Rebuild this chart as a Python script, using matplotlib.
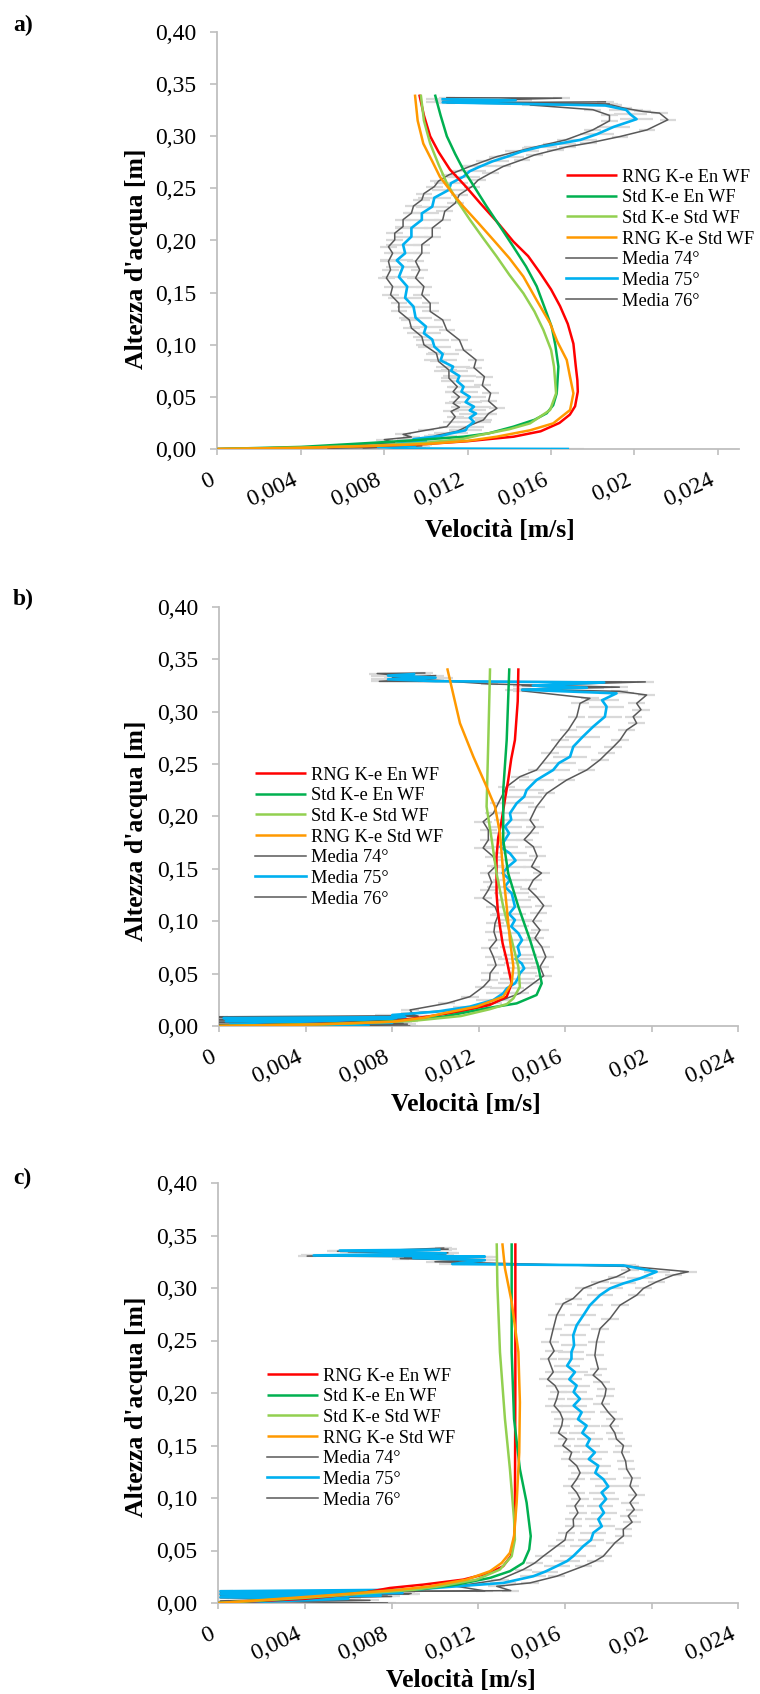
import matplotlib
matplotlib.use('Agg')
import matplotlib.pyplot as plt

plt.rcParams['font.family'] = ['Liberation Serif', 'DejaVu Serif']

# ---------------- DATA ----------------
SERIES_NAMES = ['RNG K-e En WF', 'Std K-e En WF', 'Std K-e Std WF', 'RNG K-e Std WF',
                'Media 74°', 'Media 75°', 'Media 76°']
Y_TICKS = [0.0, 0.05, 0.10, 0.15, 0.20, 0.25, 0.30, 0.35, 0.40]
Y_LABELS = ['0,00', '0,05', '0,10', '0,15', '0,20', '0,25', '0,30', '0,35', '0,40']
X_TICKS = [0.0, 0.004, 0.008, 0.012, 0.016, 0.020, 0.024]
X_LABELS = ['0', '0,004', '0,008', '0,012', '0,016', '0,02', '0,024']
X_MAX = [0.025, 0.024, 0.024]
ERR_75 = [0.0008, 0.0008, 0.0006]
ERR_SIDE = [0.0004, 0.0004, 0.0004]

# ---- panel a ----
A_RED_V = [0, 0.004, 0.0075, 0.0100, 0.0120, 0.0142, 0.0155, 0.0164, 0.0169, 0.01715, 0.01728, 0.01726, 0.01718, 0.01707, 0.0168, 0.01643, 0.0160, 0.01547, 0.0149, 0.01419, 0.0134, 0.01259, 0.0119, 0.01115, 0.0106, 0.0102, 0.0099, 0.00968]
A_RED_H = [0, 0.0012, 0.003, 0.0048, 0.0075, 0.0118, 0.017, 0.025, 0.033, 0.041, 0.055, 0.066, 0.080, 0.101, 0.120, 0.137, 0.153, 0.169, 0.185, 0.199, 0.218, 0.236, 0.252, 0.268, 0.285, 0.300, 0.320, 0.340]
A_GRN_V = [0, 0.004, 0.0075, 0.0095, 0.0118, 0.0130, 0.01419, 0.0152, 0.01579, 0.0161, 0.01627, 0.01635, 0.0162, 0.01603, 0.0157, 0.01531, 0.0148, 0.01419, 0.0136, 0.01291, 0.0123, 0.01179, 0.0114, 0.0110, 0.0107, 0.01043]
A_GRN_H = [0, 0.002, 0.006, 0.0085, 0.0118, 0.015, 0.0214, 0.028, 0.0343, 0.042, 0.0534, 0.079, 0.100, 0.117, 0.135, 0.156, 0.175, 0.194, 0.212, 0.2326, 0.252, 0.268, 0.283, 0.300, 0.320, 0.340]
A_LGR_V = [0, 0.004, 0.0075, 0.0100, 0.0118, 0.01259, 0.0140, 0.01499, 0.01595, 0.01624, 0.01614, 0.0160, 0.01563, 0.0152, 0.01467, 0.0140, 0.01339, 0.01275, 0.01211, 0.0115, 0.0110, 0.0106, 0.0102, 0.0099, 0.00975]
A_LGR_H = [0, 0.0013, 0.0032, 0.006, 0.0098, 0.0134, 0.019, 0.0246, 0.0374, 0.0534, 0.079, 0.095, 0.1142, 0.132, 0.1494, 0.167, 0.1846, 0.202, 0.2198, 0.238, 0.255, 0.273, 0.293, 0.315, 0.340]
A_ORG_V = [0, 0.004, 0.0075, 0.0100, 0.0120, 0.01339, 0.0150, 0.0161, 0.01691, 0.01707, 0.01690, 0.01675, 0.0163, 0.01595, 0.0153, 0.01467, 0.0140, 0.01323, 0.0125, 0.01179, 0.0112, 0.01067, 0.0103, 0.00987, 0.0096, 0.00947]
A_ORG_H = [0, 0.0012, 0.003, 0.0048, 0.0078, 0.0118, 0.018, 0.0246, 0.0374, 0.0534, 0.070, 0.0854, 0.103, 0.1206, 0.143, 0.1654, 0.183, 0.2006, 0.217, 0.2326, 0.247, 0.261, 0.276, 0.293, 0.315, 0.340]
A_M74_V = [0.0053, 0.0090, 0.0062, 0.0085, 0.0080, 0.0093, 0.0089, 0.0100, 0.0110, 0.0112, 0.0114, 0.0112, 0.0116, 0.0113, 0.0116, 0.0113, 0.0115, 0.0111, 0.0111, 0.0106, 0.0105, 0.0099, 0.0098, 0.0093, 0.0092, 0.0087, 0.0087, 0.0083, 0.0084, 0.0081, 0.0083, 0.0082, 0.0084, 0.0082, 0.0085, 0.0085, 0.0089, 0.0089, 0.0093, 0.0094, 0.0098, 0.0099, 0.0104, 0.0106, 0.0111, 0.0121, 0.0134, 0.0150, 0.0167, 0.0180, 0.0188, 0.0188, 0.0180, 0.0150, 0.0188, 0.0108, 0.0165, 0.0110]
A_M74_H = [0.0007, 0.002, 0.004, 0.006, 0.009, 0.0115, 0.014, 0.018, 0.0214, 0.026, 0.031, 0.036, 0.040, 0.0439, 0.050, 0.055, 0.0598, 0.068, 0.0758, 0.084, 0.0918, 0.100, 0.1078, 0.116, 0.1238, 0.132, 0.1398, 0.148, 0.1558, 0.164, 0.1718, 0.180, 0.1878, 0.194, 0.2006, 0.207, 0.2134, 0.220, 0.2262, 0.233, 0.239, 0.245, 0.2517, 0.257, 0.263, 0.271, 0.2805, 0.2886, 0.2965, 0.3061, 0.3148, 0.320, 0.3255, 0.3300, 0.3310, 0.3335, 0.3366, 0.3370]
A_M75_V = [0.0168, 0.0092, 0.0077, 0.0095, 0.0086, 0.0100, 0.0094, 0.0107, 0.0112, 0.0119, 0.0120, 0.0123, 0.0121, 0.0124, 0.0121, 0.0123, 0.0119, 0.0121, 0.0117, 0.0118, 0.0115, 0.0116, 0.0112, 0.0113, 0.0107, 0.0108, 0.0104, 0.0103, 0.0099, 0.0100, 0.0095, 0.0094, 0.0090, 0.0091, 0.0087, 0.0089, 0.0086, 0.0090, 0.0089, 0.0093, 0.0093, 0.0098, 0.0098, 0.0103, 0.0104, 0.0111, 0.0112, 0.0118, 0.0121, 0.0126, 0.0132, 0.0139, 0.0146, 0.0155, 0.0164, 0.0174, 0.0182, 0.0190, 0.0201, 0.0198, 0.0196, 0.0186, 0.0108, 0.0143, 0.0108]
A_M75_H = [0.000, 0.0005, 0.002, 0.0035, 0.005, 0.0075, 0.0095, 0.0125, 0.015, 0.018, 0.0214, 0.026, 0.030, 0.034, 0.037, 0.0406, 0.045, 0.050, 0.055, 0.0598, 0.065, 0.070, 0.075, 0.079, 0.085, 0.091, 0.0982, 0.105, 0.111, 0.1174, 0.126, 0.1366, 0.145, 0.1558, 0.165, 0.175, 0.181, 0.1878, 0.196, 0.2037, 0.212, 0.2198, 0.226, 0.2325, 0.241, 0.2486, 0.255, 0.2613, 0.2665, 0.271, 0.276, 0.2805, 0.2855, 0.290, 0.293, 0.2965, 0.302, 0.309, 0.3164, 0.321, 0.3253, 0.3295, 0.3325, 0.3345, 0.3355]
A_M76_V = [0.0070, 0.0098, 0.0088, 0.0095, 0.0102, 0.0105, 0.0115, 0.01195, 0.01275, 0.0130, 0.0134, 0.0130, 0.0131, 0.0127, 0.0128, 0.0123, 0.0124, 0.0118, 0.0116, 0.0110, 0.0108, 0.0102, 0.0102, 0.0098, 0.0099, 0.0095, 0.0097, 0.0095, 0.0098, 0.0098, 0.0103, 0.0103, 0.0108, 0.0109, 0.0114, 0.0116, 0.0122, 0.0125, 0.0131, 0.0137, 0.0146, 0.0152, 0.0162, 0.0168, 0.0178, 0.0193, 0.0206, 0.0216, 0.0212, 0.0204, 0.0195, 0.0189, 0.0110, 0.0186]
A_M76_H = [0.001, 0.003, 0.005, 0.008, 0.0105, 0.013, 0.017, 0.0214, 0.0278, 0.034, 0.039, 0.046, 0.0535, 0.061, 0.0694, 0.078, 0.0854, 0.095, 0.1046, 0.114, 0.1238, 0.132, 0.1398, 0.148, 0.1558, 0.164, 0.1718, 0.180, 0.1878, 0.196, 0.2037, 0.212, 0.2198, 0.228, 0.2358, 0.244, 0.2517, 0.258, 0.2646, 0.271, 0.2774, 0.282, 0.287, 0.290, 0.2934, 0.2997, 0.3061, 0.3158, 0.3222, 0.3238, 0.327, 0.3300, 0.3320, 0.3330]

# ---- panel b ----
B_RED_V = [0, 0.0045, 0.0080, 0.00959, 0.01113, 0.0125, 0.01329, 0.01352, 0.0134, 0.01329, 0.0131, 0.01298, 0.01288, 0.01282, 0.01282, 0.0129, 0.01306, 0.0132, 0.01336, 0.0135, 0.01367, 0.0138, 0.01383]
B_RED_H = [0, 0.002, 0.0045, 0.0089, 0.0137, 0.020, 0.028, 0.0407, 0.052, 0.063, 0.079, 0.0948, 0.110, 0.1267, 0.1617, 0.180, 0.1967, 0.215, 0.2348, 0.255, 0.273, 0.310, 0.3415]
B_GRN_V = [0, 0.0050, 0.0085, 0.01036, 0.01236, 0.01375, 0.01467, 0.01491, 0.01475, 0.01437, 0.01383, 0.01336, 0.01313, 0.01313, 0.01329, 0.01341]
B_GRN_H = [0, 0.002, 0.005, 0.0089, 0.0169, 0.0216, 0.0296, 0.0407, 0.0566, 0.0821, 0.1139, 0.1457, 0.1776, 0.2253, 0.273, 0.3415]
B_LGR_V = [0, 0.0055, 0.0090, 0.01117, 0.0125, 0.0133, 0.0136, 0.0139, 0.01383, 0.01352, 0.01313, 0.01282, 0.0126, 0.01236, 0.01244, 0.01252]
B_LGR_H = [0, 0.002, 0.005, 0.0095, 0.016, 0.021, 0.0264, 0.0375, 0.0566, 0.0821, 0.1139, 0.1457, 0.1776, 0.2094, 0.273, 0.3415]
B_ORG_V = [0, 0.0045, 0.0080, 0.0095, 0.01036, 0.0119, 0.01313, 0.01352, 0.0136, 0.01344, 0.01329, 0.01313, 0.01298, 0.01275, 0.01236, 0.01175, 0.01113, 0.01054]
B_ORG_H = [0, 0.0015, 0.004, 0.008, 0.0121, 0.0185, 0.028, 0.0407, 0.0566, 0.0821, 0.1139, 0.1457, 0.1839, 0.2094, 0.2285, 0.257, 0.289, 0.3415]
B_M74_V = [0.0088, 0.0, 0.0085, 0.0, 0.0088, 0.0, 0.0086, 0.0, 0.0090, 0.00882, 0.01051, 0.01159, 0.01221, 0.0125, 0.01252, 0.0128, 0.01267, 0.0125, 0.01282, 0.0127, 0.01275, 0.0129, 0.01275, 0.0122, 0.01244, 0.0126, 0.01244, 0.0128, 0.01267, 0.0122, 0.01244, 0.01244, 0.0122, 0.01267, 0.0129, 0.01329, 0.0139, 0.01467, 0.01529, 0.01575, 0.01614, 0.01653, 0.01668, 0.01714, 0.0140, 0.0160, 0.0140, 0.0197, 0.0074, 0.0098, 0.0073, 0.0095]
B_M74_H = [0.000, 0.0012, 0.0025, 0.0038, 0.005, 0.0063, 0.0076, 0.0088, 0.0098, 0.0153, 0.0216, 0.028, 0.0375, 0.044, 0.0503, 0.058, 0.0662, 0.074, 0.0821, 0.090, 0.098, 0.106, 0.1139, 0.122, 0.1298, 0.137, 0.1457, 0.153, 0.1617, 0.170, 0.1776, 0.1871, 0.195, 0.203, 0.2126, 0.2285, 0.238, 0.2444, 0.2603, 0.273, 0.2826, 0.2953, 0.308, 0.3128, 0.3200, 0.3230, 0.3250, 0.3285, 0.3290, 0.3320, 0.3365, 0.3370]
B_M75_V = [0.0069, 0.0005, 0.0080, 0.0003, 0.0082, 0.0002, 0.0086, 0.0080, 0.01005, 0.01159, 0.01267, 0.01313, 0.0133, 0.01367, 0.0138, 0.0139, 0.0141, 0.01398, 0.0137, 0.0139, 0.0138, 0.0140, 0.01383, 0.0135, 0.01367, 0.0134, 0.01367, 0.0136, 0.01352, 0.0132, 0.01344, 0.0131, 0.01336, 0.0137, 0.01344, 0.0130, 0.01321, 0.0134, 0.01321, 0.0135, 0.01344, 0.01375, 0.0141, 0.01421, 0.01467, 0.01544, 0.0157, 0.01622, 0.01637, 0.0168, 0.01729, 0.01783, 0.01791, 0.0177, 0.01837, 0.0140, 0.0170, 0.0145, 0.0178, 0.0100, 0.0078, 0.0100, 0.0078, 0.0090]
B_M75_H = [0.000, 0.0015, 0.003, 0.0045, 0.006, 0.0075, 0.0085, 0.0105, 0.0137, 0.0185, 0.0248, 0.0312, 0.036, 0.0407, 0.045, 0.0503, 0.055, 0.0598, 0.064, 0.068, 0.0757, 0.082, 0.0885, 0.095, 0.1012, 0.107, 0.1139, 0.120, 0.1267, 0.133, 0.1394, 0.146, 0.1521, 0.158, 0.1648, 0.171, 0.1776, 0.184, 0.1903, 0.197, 0.203, 0.2126, 0.219, 0.2253, 0.2348, 0.2444, 0.251, 0.2571, 0.2667, 0.276, 0.2858, 0.2953, 0.3049, 0.3110, 0.3176, 0.3210, 0.3230, 0.3250, 0.3280, 0.3292, 0.3310, 0.3325, 0.3345, 0.3360]
B_M76_V = [0.0, 0.0087, 0.0, 0.0088, 0.0, 0.0087, 0.0, 0.0092, 0.00882, 0.01082, 0.01267, 0.0139, 0.01452, 0.0150, 0.01483, 0.0151, 0.01491, 0.0146, 0.01483, 0.0145, 0.01475, 0.0150, 0.01467, 0.0143, 0.01452, 0.0149, 0.01444, 0.0147, 0.01452, 0.0141, 0.01437, 0.0146, 0.01437, 0.01467, 0.01514, 0.01606, 0.01699, 0.0176, 0.01791, 0.0182, 0.01853, 0.01884, 0.0193, 0.01914, 0.0195, 0.0193, 0.01976, 0.0185, 0.0140, 0.0185, 0.0125, 0.0100, 0.0080, 0.0100]
B_M76_H = [0.0005, 0.0018, 0.0031, 0.0044, 0.0057, 0.0069, 0.0082, 0.0093, 0.0121, 0.0153, 0.0216, 0.0312, 0.0407, 0.048, 0.0566, 0.066, 0.0757, 0.084, 0.0916, 0.100, 0.1076, 0.115, 0.1235, 0.131, 0.1394, 0.146, 0.1521, 0.162, 0.1712, 0.178, 0.1839, 0.190, 0.1967, 0.2094, 0.2221, 0.2348, 0.2444, 0.254, 0.2603, 0.266, 0.273, 0.2826, 0.289, 0.2953, 0.302, 0.308, 0.316, 0.3195, 0.3215, 0.3235, 0.3265, 0.3300, 0.3330, 0.3345]

# ---- panel c ----
C_RED_V = [0, 0.004, 0.0065, 0.00792, 0.00946, 0.01131, 0.01254, 0.01315, 0.0135, 0.01365, 0.01369, 0.0137, 0.01371, 0.01371]
C_RED_H = [0, 0.004, 0.009, 0.0143, 0.0175, 0.0223, 0.0287, 0.0351, 0.0446, 0.0605, 0.0797, 0.150, 0.2071, 0.3426]
C_GRN_V = [0, 0.004, 0.007, 0.00946, 0.011, 0.01254, 0.01346, 0.01408, 0.01435, 0.01442, 0.01423, 0.01392, 0.01365, 0.01354, 0.01354]
C_GRN_H = [0, 0.005, 0.0105, 0.0134, 0.0175, 0.0239, 0.0303, 0.0382, 0.051, 0.0637, 0.0956, 0.1275, 0.1753, 0.239, 0.3426]
C_LGR_V = [0, 0.004, 0.007, 0.0090, 0.01023, 0.01192, 0.013, 0.01354, 0.01369, 0.01365, 0.01346, 0.01323, 0.013, 0.01288, 0.01285]
C_LGR_H = [0, 0.005, 0.0095, 0.0125, 0.0159, 0.0223, 0.0319, 0.0446, 0.0605, 0.0797, 0.1275, 0.1753, 0.239, 0.3027, 0.3426]
C_ORG_V = [0, 0.0025, 0.0055, 0.00838, 0.00977, 0.01146, 0.01254, 0.01308, 0.01346, 0.01365, 0.01377, 0.01389, 0.01392, 0.01385, 0.01354, 0.01323, 0.01311]
C_ORG_H = [0, 0.0035, 0.008, 0.0127, 0.0159, 0.0223, 0.0303, 0.0382, 0.0478, 0.0637, 0.0956, 0.1434, 0.1912, 0.239, 0.2868, 0.3187, 0.3426]
C_M74_V = [0.0078, 0.0001, 0.0078, 0.0001, 0.0089, 0.0001, 0.0123, 0.0110, 0.0130, 0.01408, 0.0146, 0.0150, 0.01562, 0.0160, 0.01608, 0.0164, 0.01638, 0.0166, 0.01646, 0.0167, 0.01654, 0.0163, 0.01654, 0.0167, 0.01654, 0.0162, 0.01631, 0.0159, 0.01608, 0.0157, 0.01585, 0.0159, 0.01577, 0.0155, 0.01562, 0.0157, 0.01554, 0.0152, 0.01546, 0.01523, 0.0155, 0.01531, 0.01546, 0.01562, 0.01592, 0.01638, 0.01685, 0.01762, 0.01838, 0.0190, 0.0188, 0.0108, 0.0122, 0.0084, 0.0123, 0.0041, 0.0106, 0.0055, 0.0106]
C_M74_H = [0.0, 0.002, 0.0065, 0.0080, 0.009, 0.0105, 0.0115, 0.0159, 0.0223, 0.0319, 0.038, 0.0446, 0.0542, 0.060, 0.0669, 0.073, 0.0797, 0.086, 0.0924, 0.099, 0.1052, 0.111, 0.1179, 0.124, 0.1307, 0.137, 0.1434, 0.150, 0.1561, 0.162, 0.1689, 0.175, 0.1816, 0.188, 0.1944, 0.201, 0.2071, 0.213, 0.2199, 0.2326, 0.240, 0.2486, 0.2613, 0.2741, 0.2852, 0.29, 0.2996, 0.3059, 0.3107, 0.3171, 0.3210, 0.3235, 0.3262, 0.3280, 0.3295, 0.3304, 0.3335, 0.3350, 0.3370]
C_M75_V = [0.0002, 0.0060, 0.0001, 0.0075, 0.0001, 0.0085, 0.0001, 0.0090, 0.0110, 0.01315, 0.01454, 0.0151, 0.01562, 0.0161, 0.01638, 0.01685, 0.0172, 0.01731, 0.0177, 0.01754, 0.0178, 0.01762, 0.0179, 0.01769, 0.0180, 0.01777, 0.0174, 0.01754, 0.0171, 0.01738, 0.0170, 0.01715, 0.0168, 0.0170, 0.0166, 0.01677, 0.0164, 0.01669, 0.0164, 0.01654, 0.0162, 0.01646, 0.0161, 0.0163, 0.0163, 0.01642, 0.01638, 0.01654, 0.01685, 0.01715, 0.01762, 0.01808, 0.01869, 0.01946, 0.02023, 0.0187, 0.0108, 0.0123, 0.0090, 0.0123, 0.0044, 0.0105, 0.0056, 0.0102]
C_M75_H = [0.0, 0.004, 0.0055, 0.007, 0.0085, 0.0095, 0.0112, 0.0127, 0.0159, 0.0191, 0.0255, 0.030, 0.0351, 0.040, 0.0446, 0.0542, 0.060, 0.0669, 0.073, 0.0797, 0.086, 0.0924, 0.099, 0.1052, 0.111, 0.1179, 0.124, 0.1307, 0.137, 0.1434, 0.150, 0.1561, 0.162, 0.1689, 0.175, 0.1816, 0.188, 0.1944, 0.201, 0.2071, 0.213, 0.2199, 0.226, 0.2326, 0.239, 0.2454, 0.2549, 0.2645, 0.2741, 0.2836, 0.2932, 0.2996, 0.3043, 0.3091, 0.3155, 0.3215, 0.3228, 0.3265, 0.3285, 0.3300, 0.3310, 0.3330, 0.3357, 0.3365]
C_M76_V = [0.0001, 0.0070, 0.0001, 0.0080, 0.0001, 0.0088, 0.0001, 0.0135, 0.01285, 0.01438, 0.01562, 0.01685, 0.0174, 0.01777, 0.01831, 0.0187, 0.01869, 0.0191, 0.01892, 0.0192, 0.019, 0.0193, 0.019, 0.0191, 0.01885, 0.0188, 0.01862, 0.0187, 0.01838, 0.0183, 0.01808, 0.0183, 0.018, 0.0177, 0.01785, 0.0179, 0.01769, 0.0173, 0.01754, 0.01738, 0.01746, 0.01762, 0.01808, 0.01854, 0.01931, 0.01962, 0.02023, 0.021, 0.02169, 0.0190, 0.0100, 0.0123, 0.0086, 0.0105, 0.0060, 0.0104]
C_M76_H = [0.001, 0.0025, 0.005, 0.0062, 0.0075, 0.0085, 0.0098, 0.0118, 0.0159, 0.0191, 0.0255, 0.0351, 0.040, 0.0446, 0.0574, 0.064, 0.0701, 0.077, 0.0829, 0.089, 0.0956, 0.103, 0.1115, 0.119, 0.1275, 0.135, 0.1434, 0.150, 0.1561, 0.162, 0.1689, 0.175, 0.1816, 0.190, 0.1976, 0.204, 0.2103, 0.217, 0.2231, 0.2358, 0.2486, 0.2613, 0.2709, 0.2836, 0.2932, 0.2996, 0.3059, 0.3123, 0.3155, 0.3205, 0.3250, 0.3270, 0.3290, 0.3325, 0.3345, 0.3380]

PANELS = [
    dict(label='a)', models=[(A_RED_V, A_RED_H), (A_GRN_V, A_GRN_H), (A_LGR_V, A_LGR_H), (A_ORG_V, A_ORG_H)],
         meas=[(A_M74_V, A_M74_H), (A_M75_V, A_M75_H), (A_M76_V, A_M76_H)]),
    dict(label='b)', models=[(B_RED_V, B_RED_H), (B_GRN_V, B_GRN_H), (B_LGR_V, B_LGR_H), (B_ORG_V, B_ORG_H)],
         meas=[(B_M74_V, B_M74_H), (B_M75_V, B_M75_H), (B_M76_V, B_M76_H)]),
    dict(label='c)', models=[(C_RED_V, C_RED_H), (C_GRN_V, C_GRN_H), (C_LGR_V, C_LGR_H), (C_ORG_V, C_ORG_H)],
         meas=[(C_M74_V, C_M74_H), (C_M75_V, C_M75_H), (C_M76_V, C_M76_H)]),
]

# ---------------- STYLE / LAYOUT ----------------
W, H = 760, 1694
MODEL_COLORS = ['#ff0000', '#00b050', '#92d050', '#ff9900']
MEAS_COLORS = ['#595959', '#00b0f0', '#595959']
MEAS_LW = [1.1, 1.9, 1.1]
ERR_COLOR = '#d9d9d9'
AXIS_COLOR = '#bfbfbf'

# axes boxes in pixels: x0, x1, ytop, ybottom
AX_BOX = [(217.5, 738.75, 32, 449), (219.3, 738.3, 607, 1026), (218.3, 738.3, 1183, 1603)]
PANEL_LABEL_Y = [25, 599, 1178]
YLABEL_POS = [(137, 259), (137, 831), (137, 1407)]
XLABEL_POS = [(500, 531), (466, 1104), (461, 1680)]
LEGEND_POS = [(566, 168.5), (255, 766.5), (267, 1367.5)]

fig = plt.figure(figsize=(W / 100, H / 100), dpi=100)


def fx(x):
    return x / W


def fy(y):
    return 1 - y / H


for i, p in enumerate(PANELS):
    x0, x1, yt, yb = AX_BOX[i]
    ax = fig.add_axes([fx(x0), fy(yb), fx(x1 - x0), (yb - yt) / H])
    ax.set_xlim(0, X_MAX[i])
    ax.set_ylim(0, 0.40)

    # error bars (light grey)
    for j, (v, h) in enumerate(p['meas']):
        e = ERR_75[i] if j == 1 else ERR_SIDE[i]
        ax.errorbar(v, h, xerr=e, fmt='none', ecolor=ERR_COLOR, elinewidth=1.6, zorder=1)

    handles = []
    for j, (v, h) in enumerate(p['models']):
        ln, = ax.plot(v, h, color=MODEL_COLORS[j], lw=1.8, zorder=4, solid_capstyle='butt')
        handles.append(ln)
    for j, (v, h) in enumerate(p['meas']):
        ln, = ax.plot(v, h, color=MEAS_COLORS[j], lw=MEAS_LW[j], zorder=3 if j != 1 else 3.5)
        handles.append(ln)

    for s in ['top', 'right']:
        ax.spines[s].set_visible(False)
    for s in ['left', 'bottom']:
        ax.spines[s].set_color(AXIS_COLOR)
        ax.spines[s].set_linewidth(1.3)

    ax.set_yticks(Y_TICKS)
    ax.set_yticklabels(Y_LABELS)
    ax.set_xticks(X_TICKS)
    ax.set_xticklabels(X_LABELS)
    ax.tick_params(axis='y', direction='out', length=5, width=1.2, color=AXIS_COLOR,
                   pad=10, labelsize=17)
    ax.tick_params(axis='x', direction='out', length=4, width=1.2, color=AXIS_COLOR,
                   pad=11, labelsize=17)
    for t in ax.get_xticklabels():
        t.set_rotation(25)
        t.set_ha('right')
        t.set_va('top')

    lx, ly = LEGEND_POS[i]
    ax.legend(handles, SERIES_NAMES, loc='upper left', bbox_to_anchor=(fx(lx), fy(ly)),
              bbox_transform=fig.transFigure, frameon=False, fontsize=13.2,
              handlelength=2.8, handletextpad=0.28, labelspacing=0.2,
              borderpad=0, borderaxespad=0)

    fig.text(fx(13), fy(PANEL_LABEL_Y[i]), p['label'], fontsize=17, fontweight='bold',
             ha='left', va='center')
    yx, yy = YLABEL_POS[i]
    fig.text(fx(yx), fy(yy), "Altezza d'acqua [m]", fontsize=18.5, fontweight='bold',
             rotation=90, ha='center', va='center')
    xx, xy = XLABEL_POS[i]
    fig.text(fx(xx), fy(xy), 'Velocità [m/s]', fontsize=18.5, fontweight='bold',
             ha='center', va='center')

fig.savefig('out.png', dpi=100)
